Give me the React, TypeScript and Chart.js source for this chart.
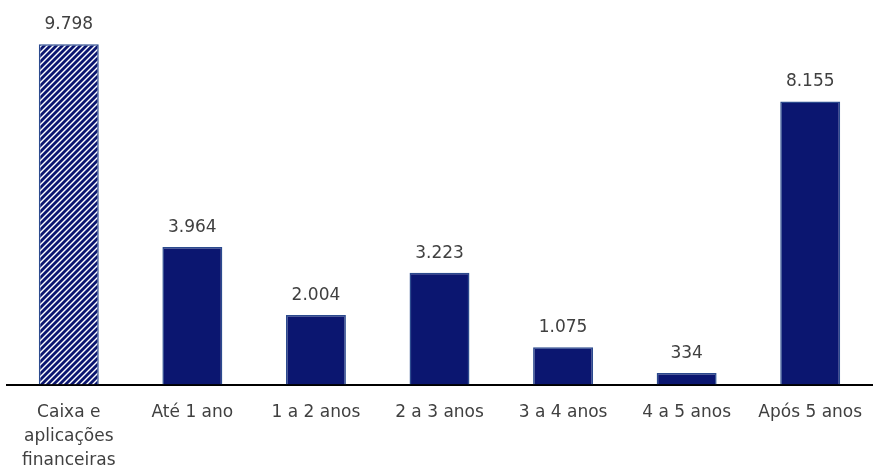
import React, { useEffect, useRef } from "react";
import { Chart, registerables } from "chart.js";

Chart.register(...registerables);

const categories: (string | string[])[] = [
  ["Caixa e", "aplicações", "financeiras"],
  "Até 1 ano",
  "1 a 2 anos",
  "2 a 3 anos",
  "3 a 4 anos",
  "4 a 5 anos",
  "Após 5 anos",
];
const values: number[] = [9798, 3964, 2004, 3223, 1075, 334, 8155];
const yMin = 0;
const yMax = 10500;

const NAVY = "#0b1670";
const BORDER = "#2b4a8e";
const TEXT = "#404040";
const FONT = "'DejaVu Sans', sans-serif";

function fmt(v: number): string {
  return v.toString().replace(/\B(?=(\d{3})+(?!\d))/g, ".");
}

function makePattern(): CanvasPattern | string {
  const c = document.createElement("canvas");
  const s = 6;
  c.width = s;
  c.height = s;
  const g = c.getContext("2d");
  if (!g) return NAVY;
  g.fillStyle = "#ffffff";
  g.fillRect(0, 0, s, s);
  g.strokeStyle = NAVY;
  g.lineWidth = 2.8;
  for (let k = -1; k <= 1; k++) {
    g.beginPath();
    g.moveTo(k * s - 1, s + 1);
    g.lineTo(k * s + s + 1, -1);
    g.stroke();
  }
  const p = g.createPattern(c, "repeat");
  return p || NAVY;
}

const valueLabels = {
  id: "valueLabels",
  afterDatasetsDraw(chart: any) {
    const ctx = chart.ctx;
    const meta = chart.getDatasetMeta(0);
    ctx.save();
    ctx.font = `17px ${FONT}`;
    ctx.fillStyle = TEXT;
    ctx.textAlign = "center";
    ctx.textBaseline = "alphabetic";
    meta.data.forEach((el: any, i: number) => {
      ctx.fillText(fmt(values[i]), el.x, el.y - 15);
    });
    ctx.restore();
  },
};

export default function App() {
  const ref = useRef<HTMLCanvasElement | null>(null);
  useEffect(() => {
    document.body.style.margin = "0";
    document.body.style.overflow = "hidden";
    if (!ref.current) return;
    const pattern = makePattern();
    const bg = values.map((_, i) => (i === 0 ? pattern : NAVY));
    const chart = new Chart(ref.current, {
      type: "bar",
      data: {
        labels: categories,
        datasets: [
          {
            data: values,
            backgroundColor: bg as any,
            borderColor: BORDER,
            borderWidth: 1.5,
            barPercentage: 0.97,
            categoryPercentage: 0.5,
          },
        ],
      },
      options: {
        animation: false,
        responsive: false,
        maintainAspectRatio: false,
        layout: { padding: { top: 20, left: 7, right: 1, bottom: 2 } },
        plugins: {
          legend: { display: false },
          tooltip: { enabled: false },
        },
        scales: {
          x: {
            grid: {
              display: true,
              drawOnChartArea: false,
              drawTicks: true,
              tickLength: 12,
              color: "rgba(0,0,0,0)",
            },
            border: { display: true, color: "#000000", width: 2 },
            ticks: {
              color: TEXT,
              font: { family: FONT, size: 17, lineHeight: 1.42 },
              padding: 4,
              maxRotation: 0,
              autoSkip: false,
            },
          },
          y: {
            display: false,
            min: yMin,
            max: yMax,
          },
        },
      },
      plugins: [valueLabels],
    });
    return () => chart.destroy();
  }, []);
  return (
    <div style={{ width: 873, height: 466, overflow: "hidden" }}>
      <canvas ref={ref} width={873} height={479} style={{ display: "block" }} />
    </div>
  );
}
